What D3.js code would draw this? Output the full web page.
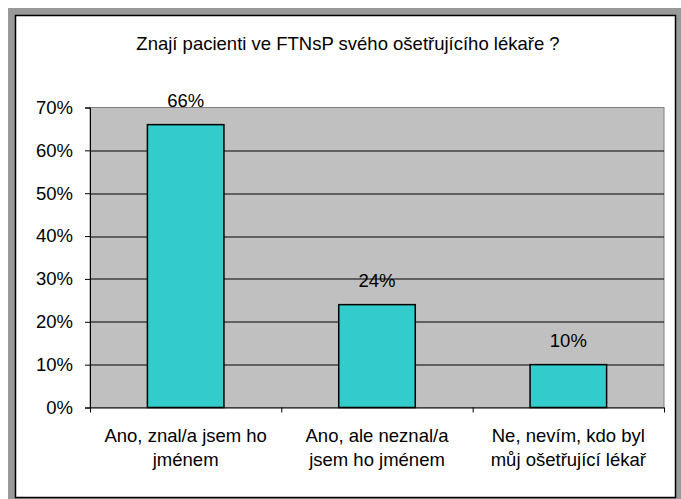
<!DOCTYPE html>
<html>
<head>
<meta charset="utf-8">
<script src="https://cdn.jsdelivr.net/npm/d3@7"></script>
<style>
  body { margin: 0; background: #fff; }
  text { font-family: "Liberation Sans", Arial, sans-serif; fill: #000; }
</style>
</head>
<body>
<div id="chart"></div>
<script>
var categories = [
  ["Ano, znal/a jsem ho", "jménem"],
  ["Ano, ale neznal/a", "jsem ho jménem"],
  ["Ne, nevím, kdo byl", "můj ošetřující lékař"]
];
var values = [0.66, 0.24, 0.10];
var yTicks = [0, 0.1, 0.2, 0.3, 0.4, 0.5, 0.6, 0.7];
var title = "Znají pacienti ve FTNsP svého ošetřujícího lékaře ?";

var width = 681, height = 499;
var margin = {top: 107.5, right: 17, bottom: 91.5, left: 90};
var w = width - margin.left - margin.right,
    h = height - margin.top - margin.bottom;
var fs = "18.5px";

var svg = d3.select("#chart").append("svg")
    .attr("width", width)
    .attr("height", height);

// window frame
svg.append("rect").attr("x", 8).attr("y", 8).attr("width", width - 8).attr("height", height - 8)
    .attr("fill", "#999999");
svg.append("rect").attr("x", 15.5).attr("y", 15.5).attr("width", 660).attr("height", 482)
    .attr("fill", "#fff").attr("stroke", "#000").attr("stroke-width", 1.5);

svg.append("text")
    .attr("x", 348).attr("y", 50)
    .attr("text-anchor", "middle")
    .style("font-size", fs)
    .text(title);

var g = svg.append("g")
    .attr("transform", "translate(" + margin.left + "," + margin.top + ")");

var x = d3.scaleBand()
    .domain(d3.range(categories.length))
    .range([0, w])
    .paddingInner(0.6)
    .paddingOuter(0.3);

var y = d3.scaleLinear()
    .domain([0, 0.7])
    .range([h, 0]);

// plot area
g.append("rect")
    .attr("width", w).attr("height", h)
    .attr("fill", "#c0c0c0")
    .attr("stroke", "#808080");

// gridlines
g.selectAll(".grid")
    .data(yTicks.slice(1, -1))
    .enter().append("line")
    .attr("x1", 0).attr("x2", w)
    .attr("y1", function(d) { return Math.round(y(d)) + 0.5; })
    .attr("y2", function(d) { return Math.round(y(d)) + 0.5; })
    .attr("stroke", "#000");

g.selectAll(".bar")
    .data(values)
    .enter().append("rect")
    .attr("x", function(d, i) { return x(i); })
    .attr("y", function(d) { return y(d); })
    .attr("width", x.bandwidth())
    .attr("height", function(d) { return h - y(d); })
    .attr("fill", "#33cccc")
    .attr("stroke", "#000")
    .attr("stroke-width", 1.5);

g.selectAll(".val")
    .data(values)
    .enter().append("text")
    .attr("x", function(d, i) { return x(i) + x.bandwidth() / 2; })
    .attr("y", function(d) { return y(d) - 18; })
    .attr("text-anchor", "middle")
    .style("font-size", fs)
    .text(function(d) { return Math.round(d * 100) + "%"; });

// y axis
var yAxis = g.append("g")
    .call(d3.axisLeft(y).tickValues(yTicks).tickFormat(d3.format(".0%")).tickSize(5).tickPadding(12));
yAxis.select(".domain").attr("stroke", "#000");
yAxis.selectAll("text").style("font-size", fs).attr("font-family", null);

// x axis
var xb = d3.scaleLinear().domain([0, categories.length]).range([0, w]);
var xAxis = g.append("g")
    .attr("transform", "translate(0," + h + ")")
    .call(d3.axisBottom(xb).ticks(3).tickSize(5).tickFormat(""));
xAxis.select(".domain").attr("d", "M0.5,0.5H" + w);

var labels = g.selectAll(".cat")
    .data(categories)
    .enter().append("text")
    .attr("text-anchor", "middle")
    .style("font-size", fs)
    .attr("transform", function(d, i) {
      return "translate(" + (x(i) + x.bandwidth() / 2) + "," + (h + 34.5) + ")";
    });
labels.selectAll("tspan")
    .data(function(d) { return d; })
    .enter().append("tspan")
    .attr("x", 0)
    .attr("dy", function(d, i) { return i ? 24 : 0; })
    .text(function(d) { return d; });
</script>
</body>
</html>
